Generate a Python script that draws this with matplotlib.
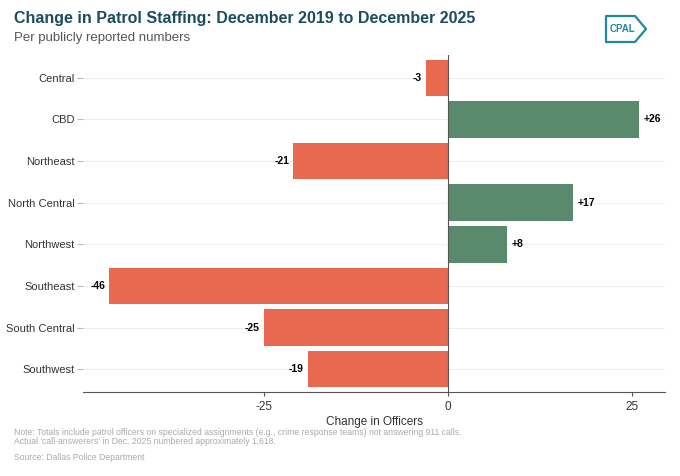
import matplotlib
matplotlib.use("Agg")
import matplotlib.pyplot as plt
from matplotlib.patches import Polygon

districts = ["Central", "CBD", "Northeast", "North Central", "Northwest",
             "Southeast", "South Central", "Southwest"]
changes = [-3, 26, -21, 17, 8, -46, -25, -19]
xticks = [-25, 0, 25]

plt.rcParams['font.family'] = ['Liberation Sans', 'DejaVu Sans']
fig = plt.figure(figsize=(6.8, 4.76), dpi=100)
ax = fig.add_axes([83/680, 1-392/476, (665-83)/680, (392-55)/476])

ys = list(range(len(districts)))
cols = ["#E8694F" if v < 0 else "#5A8A6E" for v in changes]
ax.barh(ys, changes, height=0.88, color=cols, zorder=2)
for y, v in zip(ys, changes):
    lab = f"+{v}" if v > 0 else f"{v}"
    ax.text(v + (0.6 if v > 0 else -0.6), y, lab, ha='left' if v > 0 else 'right',
            va='center', fontsize=7.5, fontweight='bold', color='black')
ax.set_yticks(ys)
ax.set_yticklabels(districts, fontsize=8, color='#333333')
ax.set_ylim(len(districts) - 0.45, -0.55)
ax.set_xlim(-49.6, 29.5)
ax.set_xticks(xticks)
ax.set_xticklabels([str(t) for t in xticks], fontsize=8.5, color='#333333')
ax.axvline(0, color='#555555', lw=0.8, zorder=3)
ax.grid(axis='y', color='#eeeeee', lw=0.8, zorder=0)
for s in ['top', 'right', 'left']:
    ax.spines[s].set_visible(False)
ax.spines['bottom'].set_color('#555555')
ax.tick_params(axis='y', length=4, color='#bbbbbb', pad=2)
ax.tick_params(axis='x', length=3, color='#555555')
ax.set_xlabel("Change in Officers", fontsize=8.5, color='#333333', labelpad=2)

fig.text(14/680, 1-18/476, "Change in Patrol Staffing: December 2019 to December 2025",
         fontsize=11.5, fontweight='bold', color='#1B4D5C', va='center')
fig.text(14/680, 1-38/476, "Per publicly reported numbers", fontsize=9.5,
         color='#555555', va='center')
fig.text(14/680, 1-437/476, "Note: Totals include patrol officers on specialized assignments (e.g., crime response teams) not answering 911 calls.\nActual 'call-answerers' in Dec. 2025 numbered approximately 1,618.",
         fontsize=6.2, color='#aaaaaa', va='center', linespacing=1.05)
fig.text(14/680, 1-457/476, "Source: Dallas Police Department", fontsize=6.2,
         color='#aaaaaa', va='center')

# logo
lx = [606, 635, 646, 635, 606]
ly = [16, 16, 29, 42, 42]
pts = [(x/680, 1-y/476) for x, y in zip(lx, ly)]
fig.patches.append(Polygon(pts, closed=True, fill=False, edgecolor='#1F8A9E',
                           lw=1.6, transform=fig.transFigure, joinstyle='round'))
fig.text(622/680, 1-29/476, "CPAL", fontsize=7, fontweight='bold',
         color='#1F8A9E', ha='center', va='center')

fig.savefig("out.png", dpi=100, facecolor='white')
